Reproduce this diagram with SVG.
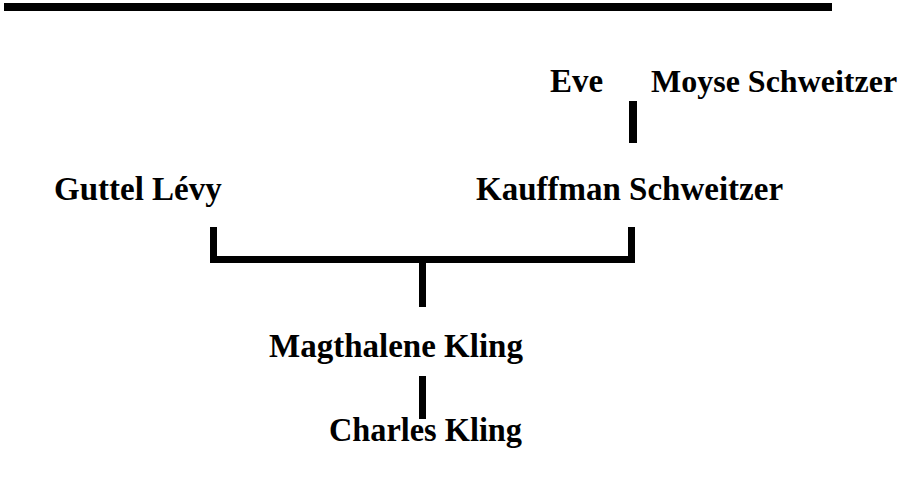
<svg xmlns="http://www.w3.org/2000/svg" width="905" height="477" viewBox="0 0 905 477">
<style>
  .name { font-family: "Liberation Serif", "Times New Roman", serif; font-weight: bold; font-size: 33px; fill: #000; }
  .small { font-size: 32px; }
</style>
<rect width="905" height="477" fill="#fff"/>
<rect id="topbar" x="4" y="3" width="828" height="8" fill="#000"/>
<g id="connectors" fill="#000">
  <rect x="629" y="101" width="8" height="42"/>
  <rect x="210" y="227" width="7" height="36"/>
  <rect x="628" y="227" width="7" height="36"/>
  <rect x="210" y="256" width="425" height="7"/>
  <rect x="419" y="258" width="7" height="49"/>
  <rect x="419" y="376" width="7" height="43"/>
</g>
<g id="eve"><text class="name" x="550" y="92">Eve</text></g>
<g id="moyse"><text class="name small" x="651" y="92">Moyse Schweitzer</text></g>
<g id="guttel"><text class="name" x="54" y="200">Guttel Lévy</text></g>
<g id="kauffman"><text class="name" x="476" y="200">Kauffman Schweitzer</text></g>
<g id="magthalene"><text class="name" x="269" y="357">Magthalene Kling</text></g>
<g id="charles"><text class="name" x="329" y="441" textLength="193" lengthAdjust="spacingAndGlyphs">Charles Kling</text></g>
</svg>
